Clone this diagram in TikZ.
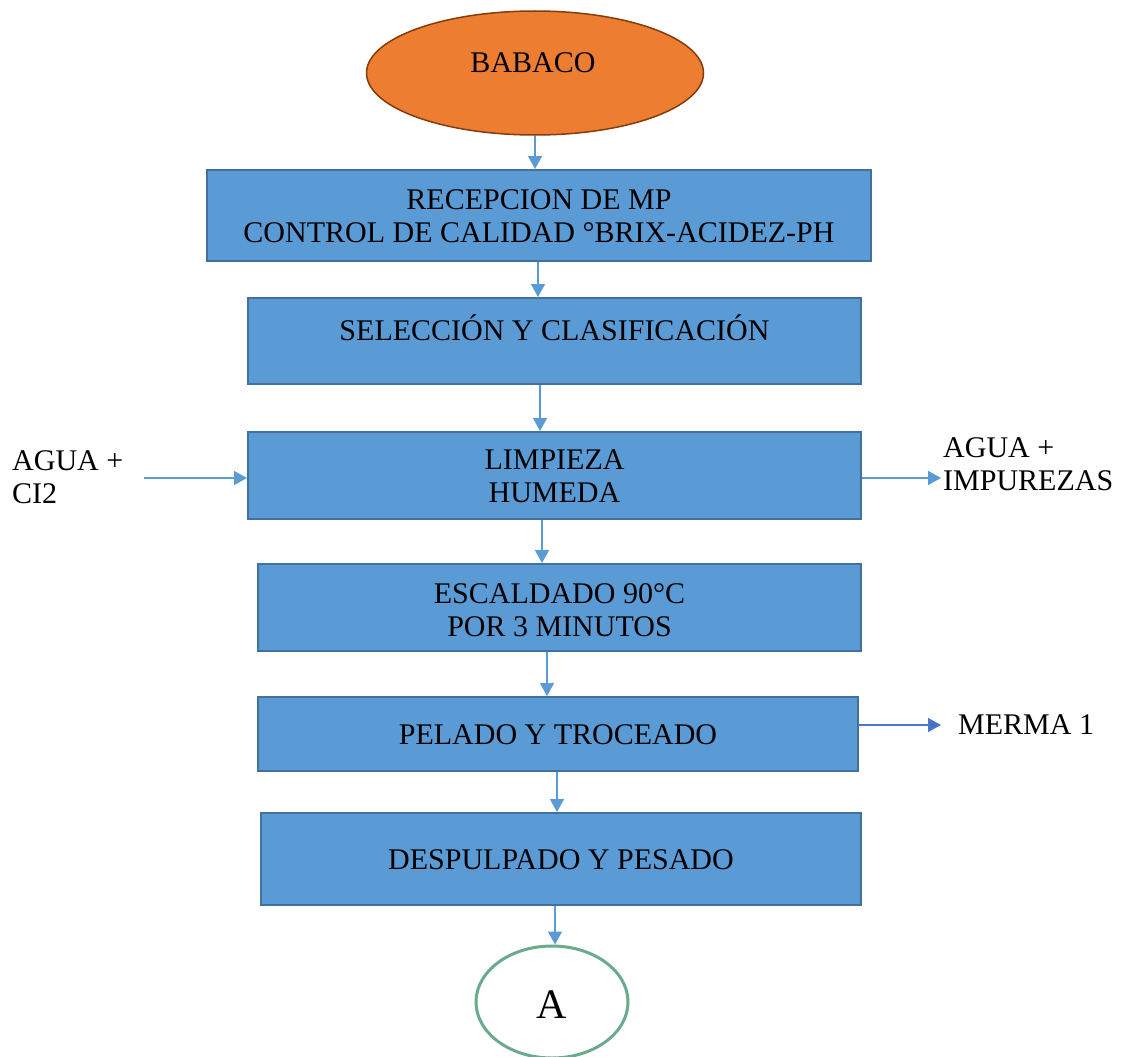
\documentclass[tikz,border=0pt]{standalone}
\usepackage{fontspec}
\setmainfont{Liberation Serif}
\usetikzlibrary{arrows.meta,shapes.geometric}
\definecolor{boxfill}{HTML}{5B9BD5}
\definecolor{boxline}{HTML}{41719C}
\definecolor{orfill}{HTML}{ED7D31}
\definecolor{orline}{HTML}{843C0C}
\definecolor{grline}{HTML}{6AAB8E}
\definecolor{darkarrow}{HTML}{4472C4}
\tikzset{
  procbox/.style={draw=boxline, line width=2pt, fill=boxfill, rectangle, inner sep=0pt},
  lbl/.style={align=center, inner sep=0pt, font=\fontsize{30}{33}\selectfont},
  flow/.style={draw=boxfill, line width=1.5pt, -{Triangle[width=14pt,length=13pt]}},
}
\begin{document}
\begin{tikzpicture}[x=1pt,y=-1pt]
\useasboundingbox (0,0) rectangle (1122,1057);
% start ellipse
\node[ellipse, draw=orline, line width=1.5pt, fill=orfill, minimum width=337pt, minimum height=124pt, inner sep=0pt] (start) at (535,73) {};
\node[lbl] (startT) at (533,63) {BABACO};
% boxes
\node[procbox, minimum width=664pt, minimum height=91pt] (b1) at (539,215.5) {};
\node[lbl] (b1T) at (539,216) {RECEPCION DE MP\\CONTROL DE CALIDAD °BRIX-ACIDEZ-PH};
\node[procbox, minimum width=613pt, minimum height=86pt] (b2) at (554.5,341) {};
\node[lbl] (b2T) at (554.5,328) {SELECCIÓN Y CLASIFICACIÓN};
\node[procbox, minimum width=613pt, minimum height=87pt] (b3) at (554.5,475.5) {};
\node[lbl] (b3T) at (554.5,476) {LIMPIEZA\\HUMEDA};
\node[procbox, minimum width=603pt, minimum height=87pt] (b4) at (559.5,607.5) {};
\node[lbl] (b4T) at (559.5,610) {ESCALDADO 90°C\\POR 3 MINUTOS};
\node[procbox, minimum width=600pt, minimum height=74pt] (b5) at (558,734) {};
\node[lbl] (b5T) at (558,735) {PELADO Y TROCEADO};
\node[procbox, minimum width=600pt, minimum height=92pt] (b6) at (561,859) {};
\node[lbl] (b6T) at (561,860) {DESPULPADO Y PESADO};
% end connector
\node[ellipse, draw=grline, line width=3pt, fill=white, minimum width=152pt, minimum height=112pt, inner sep=0pt] (endA) at (552,1002) {};
\node[lbl, font=\fontsize{42}{44}\selectfont] (endT) at (552,1005) {A};
% side texts
\node[lbl, align=left, anchor=west] (inL) at (12,477) {AGUA +\\CI2};
\node[lbl, align=left, anchor=west] (outR) at (943,464) {AGUA +\\IMPUREZAS};
\node[lbl, anchor=west] (merma) at (958,725) {MERMA 1};
\coordinate (inStart) at (144,478);
\coordinate (outEnd) at (941,478);
\coordinate (mermaEnd) at (941,725);
% connectors
\draw[flow] (start.south) -- (b1.north -| start.south);
\draw[flow] (538,262) -- (538,297);
\draw[flow] (540,385) -- (540,431);
\draw[flow] (542,520) -- (542,563);
\draw[flow] (547,652) -- (547,696);
\draw[flow] (557,772) -- (557,812);
\draw[flow] (555,906) -- (endA.north -| 555,0);
\draw[flow] (inStart) -- (b3.west |- inStart);
\draw[flow] (b3.east |- outEnd) -- (outEnd);
\draw[draw=darkarrow!80!boxfill, line width=1.5pt, -{Triangle[width=14pt,length=13pt,fill=darkarrow]}] (b5.east |- mermaEnd) -- (mermaEnd);
\end{tikzpicture}
\end{document}
